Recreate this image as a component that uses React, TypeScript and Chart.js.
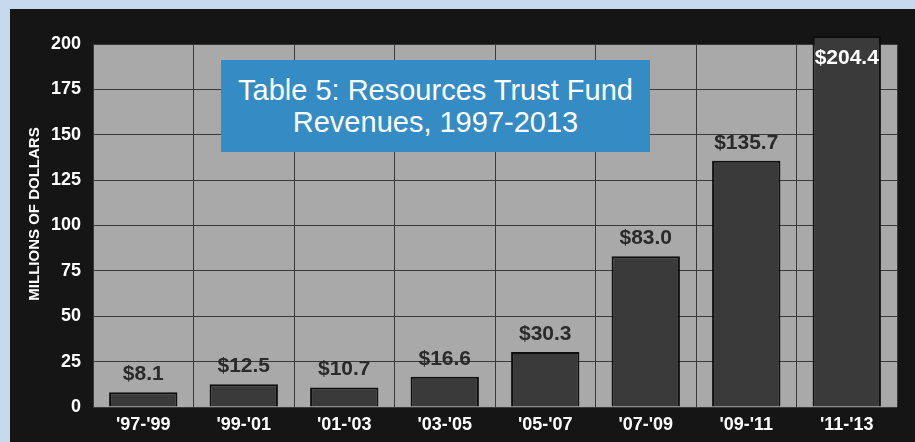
import React, { useEffect, useRef } from "react";
import { Chart, registerables } from "chart.js";

Chart.register(...registerables);

const categories = ["'97-'99", "'99-'01", "'01-'03", "'03-'05", "'05-'07", "'07-'09", "'09-'11", "'11-'13"];
const revenues = [8.1, 12.5, 10.7, 16.6, 30.3, 83.0, 135.7, 204.4];
const valueLabels = ["$8.1", "$12.5", "$10.7", "$16.6", "$30.3", "$83.0", "$135.7", "$204.4"];
const yTicks = [0, 25, 50, 75, 100, 125, 150, 175, 200];
const titleLines = ["Table 5: Resources Trust Fund", "Revenues, 1997-2013"];
const yAxisTitle = "MILLIONS OF DOLLARS";

const FONT = "'Liberation Sans', Arial, Helvetica, sans-serif";

const backgroundPlugin = {
  id: "panelBackground",
  beforeDraw(chart: any) {
    const { ctx, chartArea: a, width, height } = chart;
    ctx.save();
    ctx.fillStyle = "#c6d9ec";
    ctx.fillRect(0, 0, width, height);
    ctx.fillStyle = "#151515";
    ctx.fillRect(10, 9, width - 10, height - 9);
    ctx.fillStyle = "#a9a9a9";
    ctx.fillRect(a.left, a.top, a.right - a.left, a.bottom - a.top);
    ctx.restore();
  },
};

const axisTitlePlugin = {
  id: "axisTitle",
  afterDraw(chart: any) {
    const { ctx } = chart;
    ctx.save();
    ctx.translate(35, 214);
    ctx.rotate(-Math.PI / 2);
    ctx.font = `bold 15px ${FONT}`;
    ctx.fillStyle = "#ffffff";
    ctx.textAlign = "center";
    ctx.textBaseline = "middle";
    ctx.fillText(yAxisTitle, 0, 0);
    ctx.restore();
  },
};

const valueLabelPlugin = {
  id: "valueLabels",
  afterDatasetsDraw(chart: any) {
    const { ctx } = chart;
    const meta = chart.getDatasetMeta(0);
    const yMax = chart.scales.y.max;
    ctx.save();
    ctx.font = `bold 21px ${FONT}`;
    ctx.textAlign = "center";
    ctx.textBaseline = "middle";
    meta.data.forEach((bar: any, i: number) => {
      const over = revenues[i] > yMax;
      ctx.fillStyle = over ? "#ffffff" : "#2a2a2a";
      const y = over ? bar.y + 22 : bar.y - 18;
      ctx.fillText(valueLabels[i], bar.x, y);
    });
    ctx.restore();
  },
};

export default function App() {
  const canvasRef = useRef<HTMLCanvasElement | null>(null);

  useEffect(() => {
    if (!canvasRef.current) return;
    const chart = new Chart(canvasRef.current, {
      type: "bar",
      data: {
        labels: categories,
        datasets: [
          {
            data: revenues,
            backgroundColor: "#3a3a3a",
            borderColor: "#0e0e0e",
            borderWidth: 2,
            barPercentage: 0.68,
            categoryPercentage: 1,
            clip: false as any,
          },
        ],
      },
      options: {
        responsive: false,
        animation: false,
        layout: { padding: { top: 44, right: 18, left: 10, bottom: 0 } },
        plugins: {
          legend: { display: false },
          tooltip: { enabled: false },
          title: { display: false },
        },
        scales: {
          x: {
            offset: true,
            grid: { color: "#3a3a3a", lineWidth: 1, offset: true, drawTicks: false },
            border: { display: false },
            ticks: {
              color: "#ffffff",
              font: { family: FONT, size: 18, weight: "bold" },
              padding: 7,
              maxRotation: 0,
              autoSkip: false,
            },
            afterFit(scale: any) {
              scale.height = 35;
            },
          },
          y: {
            min: 0,
            max: 200,
            grid: { color: "#3a3a3a", lineWidth: 1, drawTicks: false },
            border: { display: false },
            afterBuildTicks(scale: any) {
              scale.ticks = yTicks.map((v) => ({ value: v }));
            },
            ticks: {
              color: "#ffffff",
              font: { family: FONT, size: 18, weight: "bold" },
              padding: 12,
            },
            afterFit(scale: any) {
              scale.width = 83;
            },
          },
        },
      },
      plugins: [backgroundPlugin, valueLabelPlugin, axisTitlePlugin],
    });
    return () => chart.destroy();
  }, []);

  return (
    <div style={{ position: "absolute", left: 0, top: 0, width: 915, height: 442 }}>
      <canvas ref={canvasRef} width={915} height={442} style={{ display: "block", width: 915, height: 442 }} />
      <div
        style={{
          position: "absolute",
          left: 221,
          top: 60,
          width: 429,
          height: 92,
          background: "#358cc4",
          color: "#ffffff",
          fontFamily: FONT,
          fontSize: 29,
          lineHeight: "32px",
          textAlign: "center",
          display: "flex",
          flexDirection: "column",
          justifyContent: "center",
        }}
      >
        {titleLines.map((t) => (
          <div key={t} style={{ whiteSpace: "nowrap" }}>{t}</div>
        ))}
      </div>
    </div>
  );
}
